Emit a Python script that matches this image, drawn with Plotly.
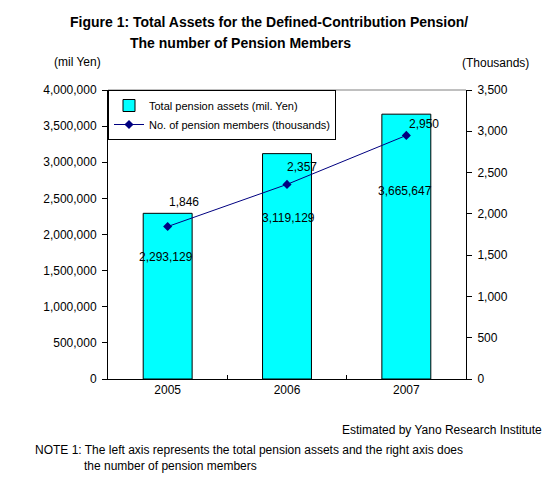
import plotly.graph_objects as go

years = ["2005", "2006", "2007"]
assets = [2293129, 3119129, 3665647]
members = [1846, 2357, 2950]
asset_labels = ["2,293,129", "3,119,129", "3,665,647"]
member_labels = ["1,846", "2,357", "2,950"]
left_ticks = [0, 500000, 1000000, 1500000, 2000000, 2500000, 3000000, 3500000, 4000000]
right_ticks = [0, 500, 1000, 1500, 2000, 2500, 3000, 3500]

# styling offsets for labels (pixels)
asset_lbl_shift = [(-2, -44), (1, -64), (-1, -77)]
member_lbl_shift = [(16, 25), (15, 17), (18, 11)]

FONT = "Liberation Sans, Arial, sans-serif"
W, H = 549, 479
L, R, T, B = 108, 83, 90, 100
PW = W - L - R
PH = H - T - B

def px(x):
    return (x - L) / PW

def py(y):
    return (H - B - y) / PH

fig = go.Figure()
fig.add_trace(go.Bar(
    x=years, y=assets, name="Total pension assets (mil. Yen)",
    marker=dict(color="#00FFFF", line=dict(color="black", width=1)),
    width=0.41, yaxis="y",
))
fig.add_trace(go.Scatter(
    x=years, y=members, name="No. of pension members (thousands)",
    mode="lines+markers", line=dict(color="#000080", width=1),
    marker=dict(symbol="diamond", size=7, color="#000080"),
    yaxis="y2",
))

ann = []
for i, (v, lab) in enumerate(zip(assets, asset_labels)):
    ann.append(dict(x=i, y=v, xref="x", yref="y", text=lab, showarrow=False,
                    xshift=asset_lbl_shift[i][0], yshift=asset_lbl_shift[i][1],
                    font=dict(size=12, color="black", family=FONT)))
for i, (v, lab) in enumerate(zip(members, member_labels)):
    ann.append(dict(x=i, y=v, xref="x", yref="y2", text=lab, showarrow=False,
                    xshift=member_lbl_shift[i][0], yshift=member_lbl_shift[i][1],
                    font=dict(size=12, color="black", family=FONT)))

def txt(x, y, s, size=12, anchor="left", bold=False):
    if bold:
        s = "<b>" + s + "</b>"
    ann.append(dict(x=px(x), y=py(y), xref="paper", yref="paper", text=s,
                    showarrow=False, xanchor=anchor, yanchor="middle",
                    font=dict(size=size, color="black", family=FONT)))

txt(68, 22, "Figure 1: Total Assets for the Defined-Contribution Pension/", 14, "left", True)
txt(128, 43, "The number of Pension Members", 14, "left", True)
txt(77, 62, "(mil Yen)", 12, "center")
txt(495, 63, "(Thousands)", 12, "center")
txt(544, 430, "Estimated by Yano Research Institute", 12, "right")
txt(33, 450, "NOTE 1: The left axis represents the total pension assets and the right axis does", 12, "left")
txt(82, 466, "the number of pension members", 12, "left")

fig.update_layout(
    width=W, height=H,
    margin=dict(l=L, r=R, t=T, b=B),
    paper_bgcolor="white", plot_bgcolor="white",
    font=dict(family=FONT, size=12, color="black"),
    showlegend=True,
    legend=dict(x=0, y=1, xanchor="left", yanchor="top",
                bgcolor="white", bordercolor="black", borderwidth=1,
                font=dict(size=11, family=FONT), tracegroupgap=0,
                itemwidth=30),
    annotations=ann,
    xaxis=dict(type="category", showline=True, linecolor="black", linewidth=1,
               ticks="inside", ticklen=4, tickcolor="black", tickson="boundaries",
               showgrid=False, tickfont=dict(size=12), range=[-0.5, 2.5]),
    yaxis=dict(range=[0, 4000000], tickvals=left_ticks,
               ticktext=[f"{v:,}" for v in left_ticks],
               showline=True, linecolor="black", linewidth=1,
               ticks="outside", ticklen=5, tickcolor="black",
               showgrid=False, zeroline=False, tickfont=dict(size=12),
               ticklabelstandoff=3),
    yaxis2=dict(range=[0, 3500], tickvals=right_ticks,
                ticktext=[f"{v:,}" for v in right_ticks],
                overlaying="y", side="right",
                showline=True, linecolor="black", linewidth=1,
                ticks="outside", ticklen=5, tickcolor="black",
                showgrid=False, zeroline=False, tickfont=dict(size=12),
                ticklabelstandoff=3),
    shapes=[dict(type="line", xref="paper", yref="paper", x0=0, x1=1, y0=1, y1=1,
                 line=dict(color="gray", width=1))],
)

fig.write_html("out.html")
